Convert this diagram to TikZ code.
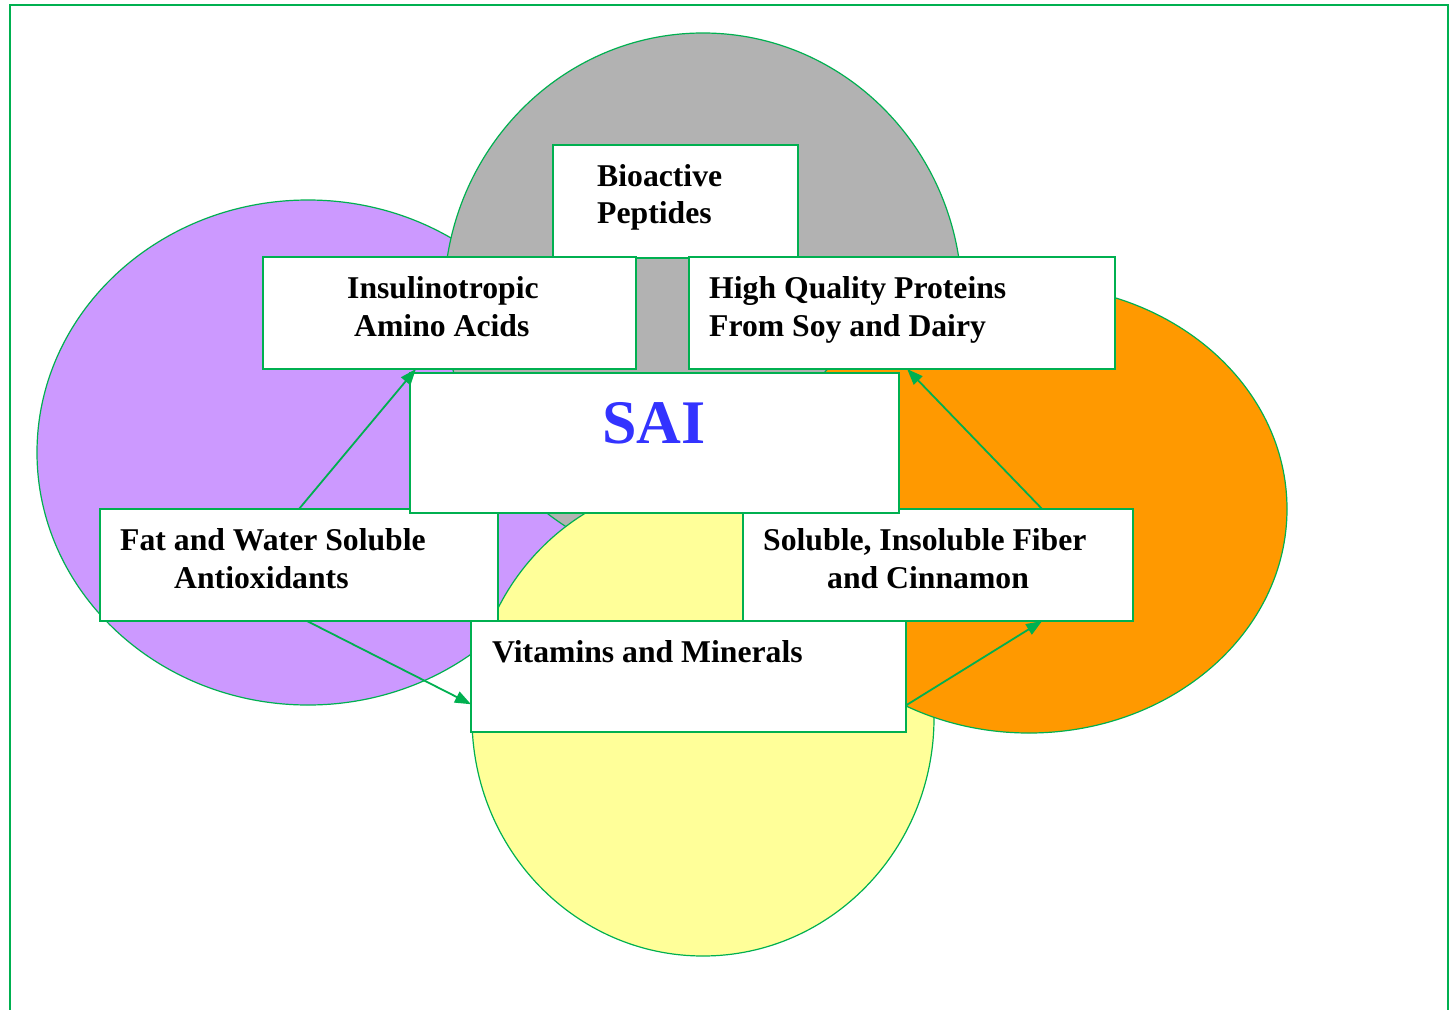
\documentclass[tikz,border=0pt]{standalone}
\usepackage{fontspec}
\setmainfont{Liberation Serif}
\usetikzlibrary{arrows.meta,calc}
\definecolor{grn}{HTML}{00B050}
\definecolor{purp}{HTML}{CC99FF}
\definecolor{gry}{HTML}{B2B2B2}
\definecolor{orng}{HTML}{FF9900}
\definecolor{ylw}{HTML}{FFFF99}
\definecolor{saiblue}{HTML}{3333FF}
\begin{document}
\begin{tikzpicture}[x=1pt,y=-1pt,
  blob/.style={draw=grn, line width=1.2pt},
  box/.style={draw=grn, fill=white, line width=1.8pt, inner sep=0pt, outer sep=0pt, anchor=north west},
  txt/.style={anchor=base west, inner sep=0pt, font=\fontsize{31.7}{38}\selectfont\bfseries},
  conn/.style={draw=grn, line width=1.8pt, -{Triangle[length=16pt,width=12pt]}}]
\useasboundingbox (0,0) rectangle (1455,1009);
\clip (0,0) rectangle (1455,1009);
\draw[grn, line width=2pt] (10,5) rectangle (1448,1040);
% ellipses
\draw[blob, fill=purp] (308,452.5) ellipse [x radius=271, y radius=252.5];
\draw[blob, fill=gry] (703,300) ellipse [x radius=259, y radius=267];
\draw[blob, fill=ylw] (703,718) ellipse [x radius=231, y radius=238];
\draw[blob, fill=orng] (1029,509) ellipse [x radius=258, y radius=224];
% boxes
\node[box, minimum width=245pt, minimum height=113pt] (bio) at (553,145) {};
\node[box, minimum width=426pt, minimum height=112pt] (hq) at (689,257) {};
\node[box, minimum width=373pt, minimum height=112pt] (ins) at (263,257) {};
\node[box, minimum width=398pt, minimum height=112pt] (fat) at (100,509) {};
\node[box, minimum width=390pt, minimum height=112pt] (sol) at (743,509) {};
\node[box, minimum width=435pt, minimum height=111pt] (vit) at (471,621) {};
\node[box, minimum width=489pt, minimum height=140pt] (sai) at (410,373) {};
% texts
\node[txt] (t1) at (597,186) {Bioactive};
\node[txt] (t2) at (597,223) {Peptides};
\node[txt] (t3) at (347,298) {Insulinotropic};
\node[txt] (t4) at (354,336) {Amino Acids};
\node[txt] (t5) at (709,298) {High Quality Proteins};
\node[txt] (t6) at (709,336) {From Soy and Dairy};
\node[txt] (t7) at (120,550) {Fat and Water Soluble};
\node[txt] (t8) at (174,588) {Antioxidants};
\node[txt] (t9) at (763,550) {Soluble, Insoluble Fiber};
\node[txt] (t10) at (827,588) {and Cinnamon};
\node[txt] (t11) at (492,662) {Vitamins and Minerals};
\node[anchor=base west, inner sep=0pt, font=\fontsize{62}{70}\selectfont\bfseries, text=saiblue] (t12) at (602,443) {SAI};
% connectors
\draw[conn] (fat.north) -- ($(ins.south west)!0.41!(ins.south east)$);
\draw[conn] ($(sol.north west)!0.767!(sol.north east)$) -- ($(hq.south west)!0.512!(hq.south east)$);
\draw[conn] ($(fat.south west)!0.52!(fat.south east)$) -- ($(vit.north west)!0.75!(vit.south west)$);
\draw[conn] ($(vit.north east)!0.76!(vit.south east)$) -- ($(sol.south west)!0.767!(sol.south east)$);
\end{tikzpicture}
\end{document}
